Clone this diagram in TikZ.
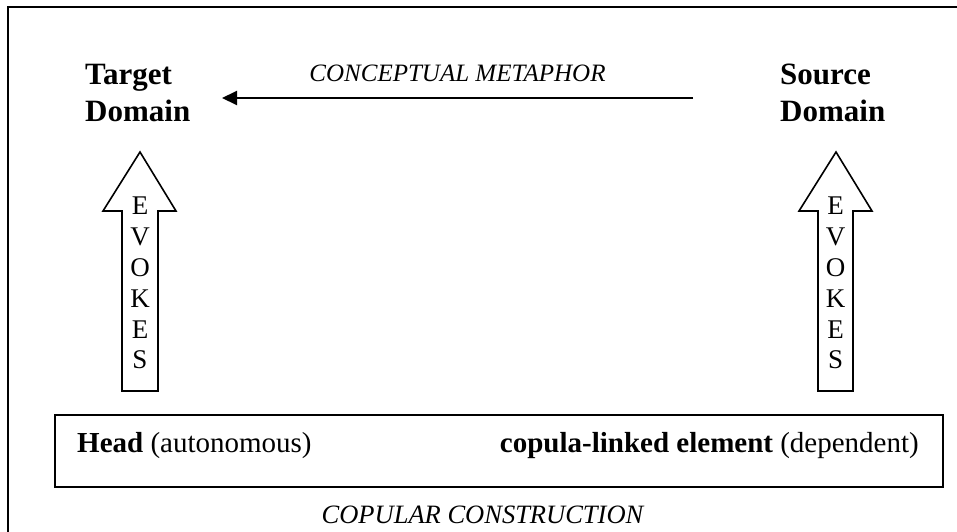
\documentclass[tikz,border=0pt]{standalone}
\usepackage{fontspec}
\setmainfont{Liberation Serif}
\usetikzlibrary{arrows.meta,positioning}

\begin{document}
\begin{tikzpicture}[x=1pt,y=-1pt,>={Triangle[length=15pt,width=14pt]},
    domainbox/.style={font=\fontsize{31}{37}\selectfont\bfseries,align=left,inner sep=0,anchor=north west},
    caption/.style={font=\fontsize{25}{30}\selectfont\itshape,inner sep=0},
    evokes/.style={draw,line width=1.6pt,fill=white},
    letters/.style={font=\fontsize{27}{30.8}\selectfont,align=center,inner sep=0,anchor=north},
    elem/.style={font=\fontsize{29}{35}\selectfont,inner sep=0}]
  \useasboundingbox (0,0) rectangle (957,531);
  % outer frame, runs off the page at right and bottom
  \draw[line width=2pt] (8,560) -- (8,7) -- (980,7);

  \node[domainbox] (target) at (85,64)  {Target\\Domain};
  \node[domainbox] (source) at (780,64) {Source\\Domain};

  \coordinate (mstart) at (693,98);
  \coordinate (mend)   at (222,98);
  \draw[->,line width=2pt] (mstart) -- node[caption,above=15pt] (metaphor) {CONCEPTUAL METAPHOR} (mend);

  % block arrows
  \draw[evokes] (122,391) -- (122,211) -- (103,211) -- (140,152) -- (176,211) -- (158,211) -- (158,391) -- cycle;
  \node[letters] (evokesL) at (140,197) {E\\V\\O\\K\\E\\S};
  \draw[evokes] (818,391) -- (818,211) -- (799,211) -- (836,152) -- (872,211) -- (853,211) -- (853,391) -- cycle;
  \node[letters] (evokesR) at (835.5,197) {E\\V\\O\\K\\E\\S};

  \node[draw,line width=2pt,minimum width=888pt,minimum height=72pt,inner sep=0] (construction) at (499,451) {};
  \node[elem,anchor=base west] (head) at (77,452) {\textbf{Head} (autonomous)};
  \node[elem,anchor=base east] (dependent) at (919,452) {\textbf{copula-linked element} (dependent)};
  \node[caption,font=\fontsize{26.5}{30}\selectfont\itshape,anchor=base] (copular) at (482.5,523) {COPULAR CONSTRUCTION};
\end{tikzpicture}
\end{document}
